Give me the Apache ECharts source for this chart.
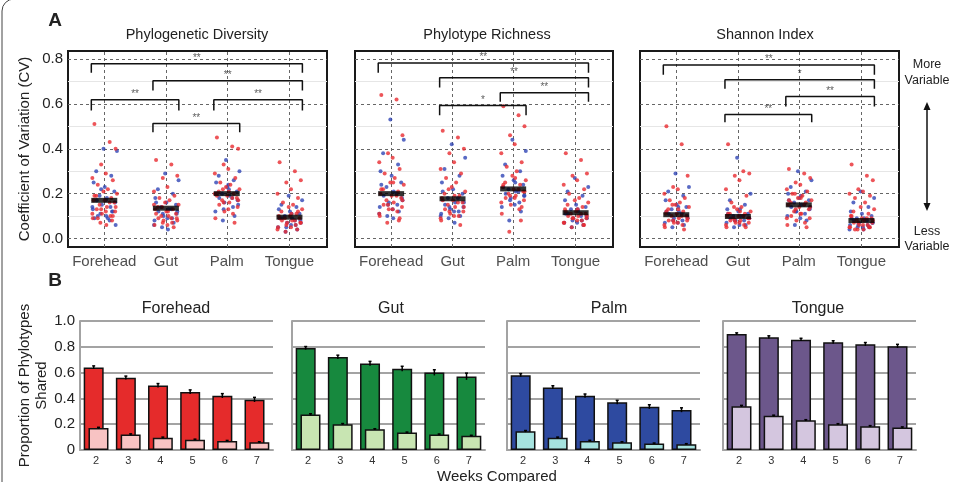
<!DOCTYPE html>
<html lang="en">
<head>
<meta charset="UTF-8">
<title>Variation and shared phylotypes</title>
<style>html,body{margin:0;padding:0;background:#fff;}</style>
</head>
<body>
<div id="main" style="width:963px;height:482px;"></div>
<script src="https://cdn.jsdelivr.net/npm/echarts@6/dist/echarts.min.js"></script>
<script>
var FONT = '"Liberation Sans", Arial, Helvetica, sans-serif';

// ---------- panel A : coefficient of variation ----------
var sites = ['Forehead', 'Gut', 'Palm', 'Tongue'];
var metrics = ['Phylogenetic Diversity', 'Phylotype Richness', 'Shannon Index'];
var sitePos = [14, 37.8, 61.3, 85.5];   // where each site sits across a box (0-100)
var cvTicks = [0, 0.2, 0.4, 0.6, 0.8];
var cvMinor = [0.1, 0.3, 0.5, 0.7];
// fixed horizontal spread of the dots around each site
var jitter = [-3.8, 2.1, 4.4, -1.2, 0.6, -4.6, 3.3, -2.5, 1.4, -0.3, 4.9, -3.1, 2.7,
              -4.1, 0.2, 3.9, -1.8, 1.0, -2.9, 4.2, -0.9, 2.4, -4.4, 3.0, -1.5, 0.8];

// CV x 100 of each subject, per site (Forehead, Gut, Palm, Tongue)
var pdRed = [
  [51, 43, 40, 33, 29, 27, 26, 24, 22, 21, 20, 19, 18, 17, 17, 16, 15, 14, 13, 12, 11, 10, 9, 8, 7, 6, 19, 16, 14, 13, 12, 11, 10, 9],
  [35, 33, 28, 27, 23, 21, 19, 18, 17, 16, 15, 14, 13, 13, 12, 11, 10, 10, 9, 9, 8, 7, 6, 5, 14, 12, 11, 9, 8, 7, 6, 15],
  [45, 41, 40, 33, 31, 29, 27, 25, 24, 23, 22, 21, 20, 20, 19, 18, 17, 16, 15, 14, 12, 11, 9, 7, 22, 21, 19, 18, 17, 16, 13, 20],
  [34, 30, 26, 25, 22, 20, 18, 16, 15, 14, 13, 12, 11, 10, 10, 9, 9, 8, 8, 7, 7, 6, 5, 4, 3, 11, 9, 8, 7, 6, 5, 4, 12]
];
var pdBlue = [
  [40, 39, 30, 28, 25, 23, 21, 19, 18, 17, 16, 15, 14, 13, 12, 11, 10, 9, 8, 6, 22, 17, 14, 12, 10, 9],
  [29, 26, 22, 20, 18, 16, 15, 14, 13, 12, 11, 10, 9, 8, 7, 5, 4, 16, 13, 12, 11, 9, 6],
  [35, 30, 28, 26, 25, 23, 21, 20, 19, 18, 17, 16, 14, 12, 10, 8, 22, 20, 18, 15, 13, 24],
  [19, 17, 15, 14, 13, 12, 11, 10, 9, 9, 8, 7, 6, 5, 4, 3, 11, 9, 8, 7, 5, 6]
];
var prRed = [
  [64, 62, 46, 38, 36, 34, 31, 29, 27, 25, 24, 22, 21, 20, 19, 18, 17, 16, 15, 14, 13, 12, 10, 8, 7, 25, 22, 19, 17, 15, 13, 11, 9],
  [48, 45, 40, 38, 34, 31, 29, 27, 25, 23, 21, 20, 19, 18, 17, 16, 15, 14, 13, 12, 11, 10, 8, 6, 22, 19, 17, 16, 14, 12, 10, 9],
  [59, 55, 50, 46, 42, 38, 34, 32, 30, 28, 26, 25, 24, 23, 22, 21, 20, 19, 18, 17, 15, 13, 11, 8, 3, 27, 24, 22, 21, 19, 18, 16, 14],
  [38, 35, 29, 28, 26, 24, 22, 20, 18, 17, 16, 15, 14, 13, 12, 11, 11, 10, 10, 9, 9, 8, 7, 6, 5, 13, 12, 11, 10, 9, 8, 7, 6]
];
var prBlue = [
  [53, 44, 38, 33, 30, 28, 25, 23, 21, 19, 18, 16, 15, 14, 12, 10, 9, 24, 20, 17, 15, 13, 11],
  [42, 36, 31, 28, 25, 22, 20, 18, 16, 15, 14, 13, 12, 11, 10, 9, 7, 21, 18, 16, 14, 12, 10],
  [44, 39, 33, 30, 28, 26, 24, 22, 21, 20, 19, 18, 16, 14, 12, 8, 25, 23, 21, 19, 17, 15],
  [27, 23, 21, 19, 17, 15, 14, 13, 12, 11, 10, 9, 8, 7, 6, 5, 13, 11, 10, 9, 8, 7]
];
var shRed = [
  [50, 42, 28, 23, 22, 20, 18, 17, 16, 15, 14, 13, 12, 11, 11, 10, 10, 9, 8, 8, 7, 6, 5, 4, 15, 13, 12, 10, 9, 8, 7, 6],
  [42, 30, 29, 28, 26, 22, 19, 16, 14, 13, 12, 11, 11, 10, 10, 9, 9, 8, 8, 7, 7, 6, 5, 5, 14, 12, 11, 10, 9, 8, 7, 6],
  [31, 29, 27, 25, 24, 22, 21, 20, 19, 18, 17, 16, 16, 15, 14, 13, 12, 11, 10, 9, 8, 7, 6, 5, 20, 18, 17, 15, 14, 13, 11, 9],
  [33, 28, 26, 22, 21, 20, 19, 18, 16, 14, 13, 12, 11, 10, 9, 9, 8, 8, 7, 7, 6, 6, 5, 5, 4, 4, 10, 9, 8, 7, 6, 5, 5, 4]
];
var shBlue = [
  [29, 23, 21, 19, 17, 15, 14, 13, 12, 11, 10, 9, 8, 7, 6, 5, 14, 12, 11, 9, 8, 7],
  [36, 20, 17, 15, 13, 12, 11, 10, 10, 9, 9, 8, 8, 7, 6, 5, 13, 11, 10, 9, 8, 6],
  [30, 26, 23, 21, 20, 18, 17, 16, 15, 14, 13, 12, 11, 10, 8, 6, 19, 17, 15, 14, 12, 9],
  [21, 18, 16, 14, 12, 11, 10, 9, 9, 8, 7, 7, 6, 6, 5, 5, 4, 9, 8, 7, 6, 5, 4]
];
var pdMean = [0.17, 0.135, 0.20, 0.095];
var prMean = [0.20, 0.177, 0.221, 0.115];
var shMean = [0.106, 0.098, 0.15, 0.08];
// significance brackets: [from site, to site, top, leg end, stars]
var pdSig = [[0, 3, 0.779, 0.739, '**'], [1, 3, 0.703, 0.66, '**'], [0, 1, 0.619, 0.571, '**'],
             [2, 3, 0.619, 0.571, '**'], [1, 2, 0.513, 0.474, '**']];
var prSig = [[0, 3, 0.783, 0.739, '**'], [1, 3, 0.717, 0.673, '**'], [2, 3, 0.65, 0.61, '**'],
             [1, 2, 0.593, 0.549, '*']];
var shSig = [[0, 3, 0.774, 0.73, '**'], [1, 3, 0.708, 0.668, '*'], [2, 3, 0.633, 0.588, '**'],
             [1, 2, 0.553, 0.518, '**']];

// ---------- panel B : proportion of phylotypes shared ----------
var weeks = ['2', '3', '4', '5', '6', '7'];
var fhPair = [0.64, 0.56, 0.50, 0.45, 0.42, 0.39];
var fhAll = [0.17, 0.12, 0.095, 0.08, 0.07, 0.06];
var gutPair = [0.79, 0.72, 0.67, 0.63, 0.60, 0.57];
var gutAll = [0.275, 0.20, 0.16, 0.135, 0.12, 0.11];
var palmPair = [0.58, 0.485, 0.42, 0.37, 0.335, 0.31];
var palmAll = [0.145, 0.095, 0.07, 0.06, 0.05, 0.045];
var tonPair = [0.90, 0.875, 0.855, 0.835, 0.82, 0.805];
var tonAll = [0.34, 0.265, 0.23, 0.20, 0.185, 0.175];
var fhErr = [0.012, 0.013, 0.015, 0.016, 0.017, 0.018];
var gutErr = [0.012, 0.015, 0.017, 0.019, 0.022, 0.026];
var palmErr = [0.012, 0.013, 0.014, 0.015, 0.016, 0.017];
var tonErr = [0.008, 0.01, 0.011, 0.012, 0.013, 0.014];
var allErr = [0.006, 0.005, 0.005, 0.004, 0.004, 0.004];

var darkColors = ['#e52b2b', '#17893e', '#2e4aa0', '#6c578b'];
var lightColors = ['#f8c3c3', '#c8e5b2', '#a6e3df', '#d4c6df'];

var aBoxes = [[68, 259], [355, 258], [640, 259]];
var bLefts = [80, 292, 507, 723];
var aData = [[pdRed, pdBlue, pdMean, pdSig], [prRed, prBlue, prMean, prSig], [shRed, shBlue, shMean, shSig]];
var bData = [[fhPair, fhAll, fhErr], [gutPair, gutAll, gutErr], [palmPair, palmAll, palmErr], [tonPair, tonAll, tonErr]];

var grid = [], xAxis = [], yAxis = [], series = [];
var Y_MIN = -0.038, Y_MAX = 0.836;

function dots(vals, shift) {
  var out = [];
  vals.forEach(function (list, c) {
    list.forEach(function (v, k) {
      out.push([sitePos[c] + jitter[(k + shift) % jitter.length], v / 100]);
    });
  });
  return out;
}

aData.forEach(function (d, i) {
  grid.push({left: aBoxes[i][0], top: 51, width: aBoxes[i][1], height: 196,
             show: true, borderColor: '#1a1a1a', borderWidth: 2, backgroundColor: 'transparent'});
  xAxis.push({type: 'value', gridIndex: i, min: 0, max: 100, show: false});
  yAxis.push({
    type: 'value', gridIndex: i, min: Y_MIN, max: Y_MAX,
    axisLine: {show: false}, axisTick: {show: false}, splitLine: {show: false},
    axisLabel: {
      show: i === 0, fontSize: 15, color: '#222', margin: 5, fontFamily: FONT,
      formatter: function (v) {
        var k = Math.round(v * 10);
        return (Math.abs(v * 10 - k) < 1e-6 && k % 2 === 0 && k >= 0) ? v.toFixed(1) : '';
      }
    },
    name: i === 0 ? 'Coefficient of Variation (CV)' : '',
    nameLocation: 'middle', nameGap: 36,
    nameTextStyle: {fontSize: 15, color: '#222', fontFamily: FONT}
  });

  var lines = [];
  cvMinor.forEach(function (v) { lines.push({yAxis: v, lineStyle: {color: '#e6e6e6', type: 'solid', width: 1}}); });
  cvTicks.forEach(function (v) { lines.push({yAxis: v, lineStyle: {color: '#666', type: [3, 3], width: 1}}); });
  sitePos.forEach(function (p) { lines.push({xAxis: p, lineStyle: {color: '#666', type: [3, 3], width: 1}}); });
  series.push({
    type: 'line', xAxisIndex: i, yAxisIndex: i, data: [], silent: true, z: 1,
    markLine: {silent: true, z: 1, symbol: ['none', 'none'], label: {show: false}, animation: false, data: lines}
  });

  series.push({type: 'scatter', xAxisIndex: i, yAxisIndex: i, z: 3, symbolSize: 4, silent: true,
               itemStyle: {color: '#2f45b5'}, data: dots(d[1], 9)});
  series.push({type: 'scatter', xAxisIndex: i, yAxisIndex: i, z: 3, symbolSize: 4, silent: true,
               itemStyle: {color: '#e82a30'}, data: dots(d[0], 0)});

  series.push({type: 'scatter', xAxisIndex: i, yAxisIndex: i, z: 4, symbol: 'rect', symbolSize: [26, 5],
               silent: true, itemStyle: {color: '#000'},
               data: d[2].map(function (m, c) { return [sitePos[c], m]; })});

  d[3].forEach(function (s) {
    var x1 = sitePos[s[0]] - 5, x2 = sitePos[s[1]] + 5;
    series.push({type: 'line', xAxisIndex: i, yAxisIndex: i, z: 5, silent: true, symbol: 'none',
                 lineStyle: {color: '#111', width: 1.5},
                 data: [[x1, s[3]], [x1, s[2]], [x2, s[2]], [x2, s[3]]]});
    series.push({type: 'scatter', xAxisIndex: i, yAxisIndex: i, z: 5, silent: true, symbolSize: 1,
                 itemStyle: {color: 'transparent'},
                 label: {show: true, position: 'top', distance: 0, formatter: s[4],
                         fontSize: 10, color: '#333', fontFamily: FONT},
                 data: [[(x1 + x2) / 2, s[2]]]});
  });

  series.push({type: 'scatter', xAxisIndex: i, yAxisIndex: i, z: 5, silent: true, symbolSize: 1,
               itemStyle: {color: 'transparent'},
               label: {show: true, position: 'bottom', distance: 7, formatter: '{b}',
                       fontSize: 15, color: '#222', fontFamily: FONT},
               data: sites.map(function (s, c) { return {name: s, value: [sitePos[c], Y_MIN]}; })});
});

function errBars(vals, err, dx) {
  return {
    type: 'custom', z: 6, silent: true,
    encode: {x: 0, y: 1},
    data: vals.map(function (v, k) { return [k, v, err[k]]; }),
    renderItem: function (params, api) {
      var t = api.coord([api.value(0), api.value(1) + api.value(2)]);
      var b = api.coord([api.value(0), api.value(1) - api.value(2)]);
      var x = t[0] + dx;
      var st = {stroke: '#000', lineWidth: 1.5};
      return {type: 'group', children: [
        {type: 'line', shape: {x1: x, y1: t[1], x2: x, y2: b[1]}, style: st},
        {type: 'line', shape: {x1: x - 1.5, y1: t[1], x2: x + 1.5, y2: t[1]}, style: st}
      ]};
    }
  };
}

bData.forEach(function (d, j) {
  var gi = 3 + j;
  grid.push({left: bLefts[j], top: 321, width: 193, height: 129});
  xAxis.push({type: 'category', gridIndex: gi, data: weeks,
              axisTick: {show: false},
              axisLine: {lineStyle: {color: '#a3a3a3', width: 2}},
              axisLabel: {fontSize: 11, color: '#333', margin: 5, fontFamily: FONT}});
  yAxis.push({
    type: 'value', gridIndex: gi, min: 0, max: 1, interval: 0.2,
    axisLine: {show: true, lineStyle: {color: '#a3a3a3', width: 2}},
    axisTick: {show: false},
    splitLine: {lineStyle: {color: '#a3a3a3', width: 2}},
    axisLabel: {show: j === 0, fontSize: 15, color: '#222', margin: 5, fontFamily: FONT,
                formatter: function (v) { return v === 0 ? '0' : v.toFixed(1); }},
    name: j === 0 ? 'Proportion of Phylotypes\nShared' : '',
    nameLocation: 'middle', nameGap: 30,
    nameTextStyle: {fontSize: 15, lineHeight: 17, color: '#222', fontFamily: FONT}
  });
  series.push({type: 'bar', xAxisIndex: gi, yAxisIndex: gi, z: 2, silent: true,
               barWidth: 20, barGap: '-76%',
               itemStyle: {color: darkColors[j], borderColor: '#111', borderWidth: 1.5},
               data: d[0]});
  series.push({type: 'bar', xAxisIndex: gi, yAxisIndex: gi, z: 2, silent: true,
               barWidth: 20, barGap: '-76%',
               itemStyle: {color: lightColors[j], borderColor: '#111', borderWidth: 1.5},
               data: d[1]});
  var e1 = errBars(d[0], d[2], -2.4);
  e1.xAxisIndex = gi; e1.yAxisIndex = gi;
  var e2 = errBars(d[1], allErr, 2.4);
  e2.xAxisIndex = gi; e2.yAxisIndex = gi;
  series.push(e1, e2);
});

function txt(s, x, y, size, weight) {
  return {type: 'text', x: x, y: y, silent: true,
          style: {text: s, textAlign: 'center', textVerticalAlign: 'middle',
                  fontSize: size, fontWeight: weight || 'normal', fontFamily: FONT, fill: '#222'}};
}

var graphic = [
  {type: 'rect', silent: true, shape: {x: 2, y: -1, width: 990, height: 600, r: 12},
   style: {fill: 'none', stroke: '#444', lineWidth: 1}},
  txt('A', 55, 21, 19, 'bold'),
  txt('B', 55, 281, 19, 'bold'),
  txt(metrics[0], 197, 35, 14.5),
  txt(metrics[1], 487, 35, 14.5),
  txt(metrics[2], 765, 35, 14.5),
  txt(sites[0], 176, 309, 16),
  txt(sites[1], 391, 309, 16),
  txt(sites[2], 609, 309, 16),
  txt(sites[3], 818, 309, 16),
  txt('Weeks Compared', 497, 477, 15),
  txt('More', 927, 65, 12.5),
  txt('Variable', 927, 81, 12.5),
  txt('Less', 927, 232, 12.5),
  txt('Variable', 927, 247, 12.5),
  {type: 'line', silent: true, shape: {x1: 927, y1: 108, x2: 927, y2: 205},
   style: {stroke: '#111', lineWidth: 1.5}},
  {type: 'polygon', silent: true, shape: {points: [[927, 102], [923.5, 110], [930.5, 110]]}, style: {fill: '#111'}},
  {type: 'polygon', silent: true, shape: {points: [[927, 211], [923.5, 203], [930.5, 203]]}, style: {fill: '#111'}}
];

var myChart = echarts.init(document.getElementById('main'));
myChart.setOption({
  animation: false,
  textStyle: {fontFamily: FONT},
  grid: grid,
  xAxis: xAxis,
  yAxis: yAxis,
  series: series,
  graphic: graphic
});
</script>
</body>
</html>
